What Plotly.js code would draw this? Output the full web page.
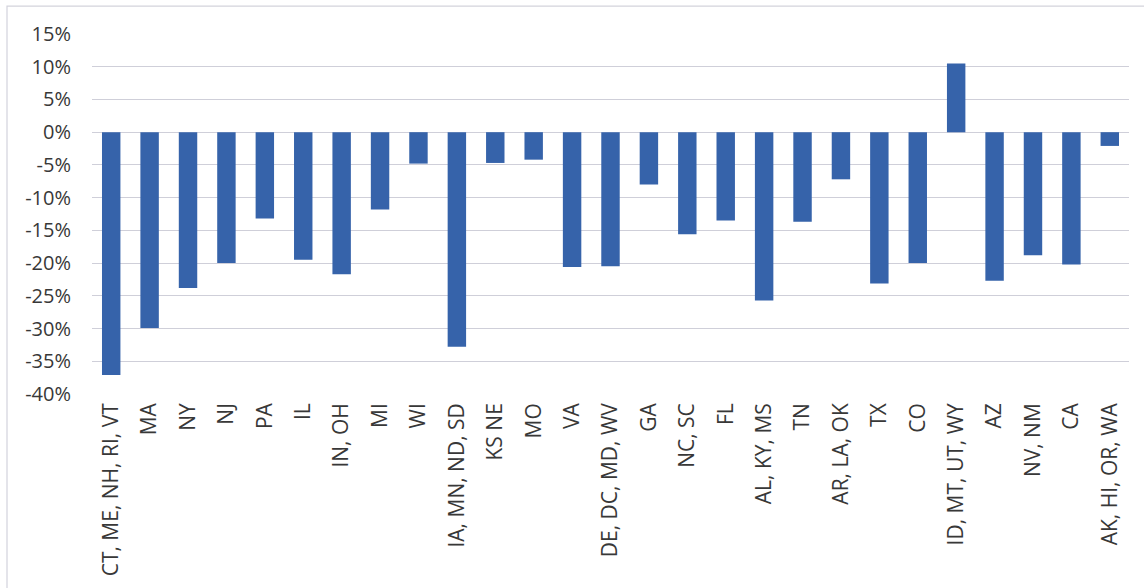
<!DOCTYPE html>
<html>
<head>
<meta charset="utf-8">
<script src="https://cdn.plot.ly/plotly-3.0.1.min.js"></script>
<style>
  html, body { margin: 0; padding: 0; background: #ffffff; }
  #chart { width: 1144px; height: 588px; }
</style>
</head>
<body>
<div id="chart"></div>
<script>
// State groups along the x axis
const regions = [
  "CT, ME, NH, RI, VT", "MA", "NY", "NJ", "PA", "IL", "IN, OH", "MI", "WI",
  "IA, MN, ND, SD", "KS NE", "MO", "VA", "DE, DC, MD, WV", "GA", "NC, SC", "FL",
  "AL, KY, MS", "TN", "AR, LA, OK", "TX", "CO", "ID, MT, UT, WY", "AZ",
  "NV, NM", "CA", "AK, HI, OR, WA"
];

// Percent change for each group
const changePct = [
  -37.1, -29.9, -23.8, -20.0, -13.2, -19.5, -21.7, -11.8, -4.8,
  -32.8, -4.7, -4.2, -20.6, -20.5, -8.0, -15.6, -13.5,
  -25.7, -13.7, -7.2, -23.1, -20.0, 10.5, -22.7,
  -18.8, -20.2, -2.1
];

// Y axis ticks
const yTicks = [-40, -35, -30, -25, -20, -15, -10, -5, 0, 5, 10, 15];
const yTickText = yTicks.map(v => v + "%");

const textColor = "#383838";
const gridColor = "#cfcfd9";
const barColor = "#3663aa";
const fontFamily = "'Open Sans', 'Noto Sans', sans-serif";

const plotH = 360.5;

const trace = {
  type: "bar",
  x: regions,
  y: changePct,
  marker: { color: barColor, line: { width: 0 } },
  hoverinfo: "skip"
};

const layout = {
  width: 1144,
  height: 588,
  margin: { l: 92, r: 15, t: 34, b: 193.5, pad: 0 },
  paper_bgcolor: "#ffffff",
  plot_bgcolor: "#ffffff",
  bargap: 0.52,
  showlegend: false,
  font: { family: fontFamily, color: textColor, size: 20 },
  xaxis: {
    type: "category",
    tickangle: -90,
    showgrid: false,
    showline: false,
    zeroline: false,
    ticks: "",
    ticklabelstandoff: 4,
    tickfont: { family: fontFamily, size: 21, color: textColor },
    fixedrange: true
  },
  yaxis: {
    range: [-40, 15],
    tickmode: "array",
    tickvals: yTicks,
    ticktext: yTickText,
    showgrid: true,
    gridcolor: gridColor,
    gridwidth: 1,
    zeroline: true,
    zerolinecolor: gridColor,
    zerolinewidth: 1,
    showline: false,
    ticks: "",
    ticklabelstandoff: 20,
    tickfont: { family: fontFamily, size: 20, color: textColor },
    fixedrange: true
  },
  shapes: [
    {
      // outer chart frame (right and bottom edges run past the page)
      type: "rect",
      xref: "paper", yref: "paper",
      x0: -85 / 1037, x1: 1070 / 1037,
      y0: -210 / plotH, y1: 1 + 28 / plotH,
      line: { color: "#d3d3dc", width: 1.2 },
      fillcolor: "rgba(0,0,0,0)",
      layer: "below"
    }
  ]
};

Plotly.newPlot("chart", [trace], layout, { staticPlot: true, displayModeBar: false });
</script>
</body>
</html>
